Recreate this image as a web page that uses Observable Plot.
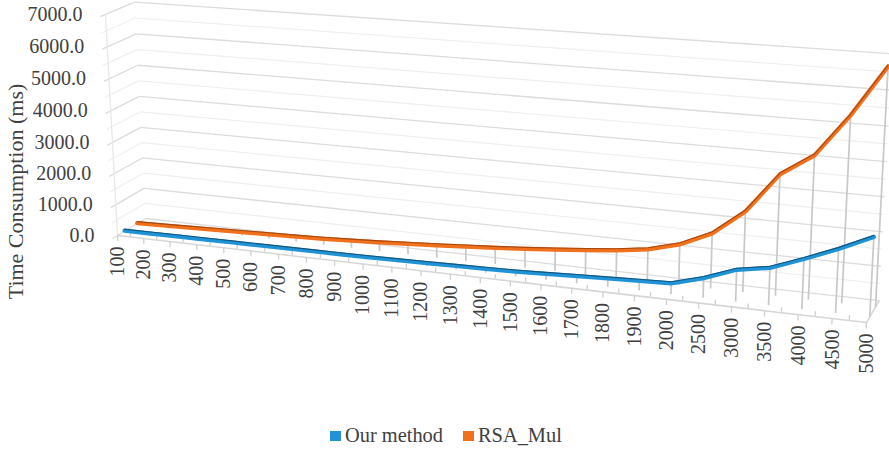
<!DOCTYPE html>
<html>
<head>
<meta charset="utf-8">
<script src="https://cdn.jsdelivr.net/npm/d3@7"></script>
<script src="https://cdn.jsdelivr.net/npm/@observablehq/plot@0.6"></script>
<style>
  html, body { margin: 0; background: #fff; }
  #chart { position: relative; width: 889px; height: 449px; overflow: hidden; font-family: "Liberation Serif", serif; color: #404040; }
  #chart svg { display: block; position: absolute; left: 0; top: 0; background: transparent; }
  .key { position: absolute; top: 423px; font-size: 20.4px; line-height: 24px; white-space: nowrap; }
  .key i { position: absolute; left: -15px; top: 8px; width: 11px; height: 10px; }
</style>
</head>
<body>
<div id="chart"></div>
<script>
// Key sizes used in the timing comparison, and the measured times in ms.
const keySizes = [100, 200, 300, 400, 500, 600, 700, 800, 900, 1000, 1100, 1200, 1300,
  1400, 1500, 1600, 1700, 1800, 1900, 2000, 2500, 3000, 3500, 4000, 4500, 5000];
const ourMethod = [15, 20, 25, 30, 35, 40, 45, 50, 55, 60, 75, 90, 105,
  120, 140, 175, 215, 250, 285, 320, 580, 930, 1090, 1450, 1840, 2280];
const rsaMul = [10, 30, 55, 80, 105, 130, 155, 185, 225, 270, 325, 380, 440,
  500, 570, 650, 735, 830, 960, 1210, 1635, 2372, 3535, 4160, 5362, 6780];
const valueTicks = [0, 1000, 2000, 3000, 4000, 5000, 6000, 7000];
const minorTicks = [500, 1500, 2500, 3500, 4500, 5500, 6500];
const seriesNames = ["Our method", "RSA_Mul"];
const seriesFill = ["#1f93d6", "#f0701c"];
const seriesEdge = ["#14567f", "#a8480f"];
const axisTitle = "Time Consumption (ms)";
const vMax = 7000;

// Pinhole camera for the 3-D box: c = position along the category axis (0..1),
// v = value, d = depth (0 front, 1 back wall).
const camX = [633.8, -15.15, 31.3, 117];
const camY = [44.2, -221.4, -12, 235];
const camW = [-0.133, -0.03, 0.023, 1];
function project(c, v, d) {
  const t = v / vMax;
  const dot = (m) => m[0] * c + m[1] * t + m[2] * d + m[3];
  const w = dot(camW);
  return [dot(camX) / w, dot(camY) / w];
}
const slot = (i) => i / (keySizes.length - 1);
const seg = (a, b, extra = {}) => {
  const p = project(...a), q = project(...b);
  return {x1: p[0], y1: p[1], x2: q[0], y2: q[1], ...extra};
};
const links = (rows, stroke, strokeWidth) =>
  Plot.link(rows, {x1: "x1", y1: "y1", x2: "x2", y2: "y2", stroke, strokeWidth, strokeLinecap: "butt"});

const wallGrid = (vals) => vals.flatMap((v) => [
  seg([0, v, -0.17], [0, v, 1]),
  seg([0, v, 1], [1, v, 1])
]);
const frontTicks = keySizes.map((_, i) => seg([slot(i), 0, 0], [slot(i), -170, 0]));
const midStubs = keySizes.slice(0, -1).map((_, i) => seg([slot(i + 0.5), 25, 0], [slot(i + 0.5), 155, 0]));
const dropLines = (vals, d) => vals.map((v, i) => seg([slot(i), v, d], [slot(i), 0, d]));
const path = (vals, d) => vals.map((v, i) => {
  const [x, y] = project(slot(i), v, d);
  return {x, y};
});

const depthBlue = 0.25, depthOrange = 0.7;
const ribbon = (vals, d, k) => [
  Plot.line(path(vals, d), {x: "x", y: "y", stroke: seriesFill[k], strokeWidth: 4.2, strokeLinejoin: "round"}),
  Plot.line(path(vals, d), {x: "x", y: "y", dy: -1.6, stroke: seriesEdge[k], strokeWidth: 1.1, strokeLinejoin: "round"})
];

const textStyle = {fontFamily: "Liberation Serif, serif", fontSize: 20, fill: "#404040"};
const svgHeight = 420;

const chart = Plot.plot({
  width: 889,
  height: svgHeight,
  margin: 0,
  style: {background: "transparent"},
  x: {type: "linear", domain: [0, 889], range: [0, 889], axis: null},
  y: {type: "linear", domain: [0, svgHeight], range: [0, svgHeight], axis: null},
  marks: [
    // side and back walls
    links(wallGrid(minorTicks), "#efefef", 1.2),
    links(wallGrid(valueTicks), "#dcdcdc", 1.3),
    links([seg([0, 0, 0], [0, vMax, 0])], "#e8e8e8", 1.3),
    // floor edges and tick marks
    links([seg([0, 0, 0], [1, 0, 0]), seg([1, 0, 0], [1, 0, 1])], "#d6d6d6", 1.5),
    links(frontTicks, "#d0d0d0", 1.3),
    links(midStubs, "#d0d0d0", 1.3),
    // series with drop lines, back to front
    links(dropLines(rsaMul, depthOrange), "#c8c8c8", 1.7),
    ...ribbon(rsaMul, depthOrange, 1),
    links(dropLines(ourMethod, depthBlue), "#c8c8c8", 1.7),
    ...ribbon(ourMethod, depthBlue, 0),
    // value labels beside the side wall
    Plot.text(valueTicks, {
      x: (v) => project(0, v, 0)[0] - 23,
      y: (v) => project(0, v, 0)[1],
      text: (v) => v.toFixed(1),
      textAnchor: "end",
      ...textStyle
    }),
    // category labels under the front edge
    Plot.text(keySizes, {
      x: (k, i) => project(slot(i), 0, 0)[0],
      y: (k, i) => project(slot(i), 0, 0)[1] + 11,
      text: (k) => String(k),
      rotate: -90,
      textAnchor: "end",
      ...textStyle
    }),
    Plot.text([axisTitle], {
      x: () => 15,
      y: () => 191,
      text: (t) => t,
      rotate: -90,
      ...textStyle,
      fontSize: 22
    })
  ]
});

const root = document.getElementById("chart");
root.appendChild(chart);

// Legend row under the plot.
const keyLeft = [345, 478];
seriesNames.forEach((name, k) => {
  const el = document.createElement("div");
  el.className = "key";
  el.style.left = keyLeft[k] + "px";
  el.textContent = name;
  const sw = document.createElement("i");
  sw.style.background = seriesFill[k];
  el.appendChild(sw);
  root.appendChild(el);
});
</script>
</body>
</html>
